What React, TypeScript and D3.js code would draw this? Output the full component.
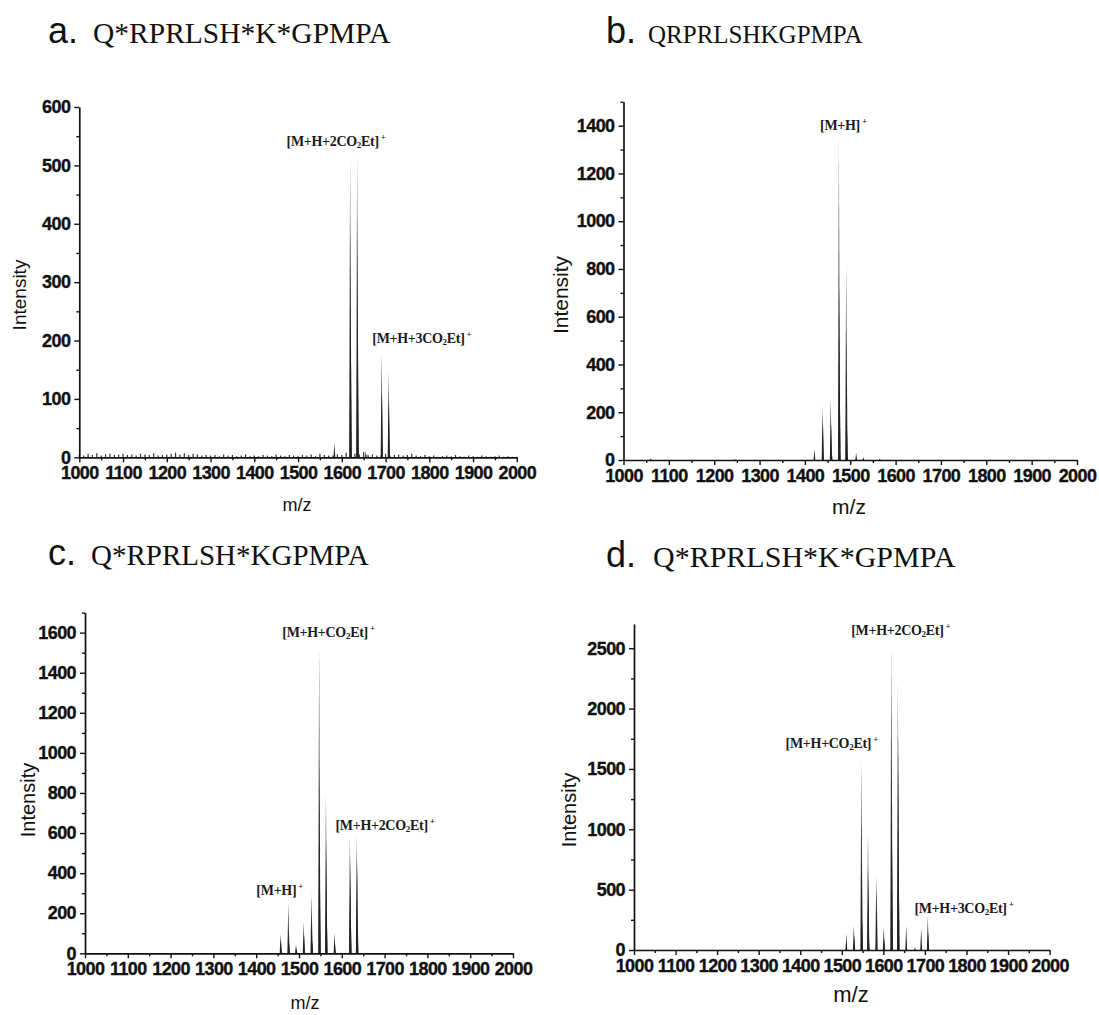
import React, { useEffect, useRef } from 'react';
import * as d3 from 'd3';

// [m/z, intensity] pairs (isotope lines included)
const peaksA: [number, number][] = [
  [1583, 24], [1655, 10],
  [1619, 515], [1620, 400], [1621, 170],
  [1635, 520], [1636, 410], [1637, 160],
  [1691, 178], [1692, 110], [1707, 148], [1708, 95],
];
// panel a baseline noise, one value every 10 m/z from 1000
const noiseA: number[] = [
  5, 3, 6, 4, 7, 3, 5, 6, 4, 5,
  6, 4, 5, 3, 6, 5, 4, 7, 3, 4,
  5, 6, 8, 5, 7, 4, 6, 5, 3, 4,
  3, 4, 2, 5, 3, 4, 2, 3, 5, 2,
  3, 2, 4, 3, 2, 5, 3, 2, 4, 3,
  2, 4, 3, 5, 2, 6, 4, 3, 3, 5,
  4, 8, 3, 6, 5, 9, 4, 5, 3, 4,
  6, 3, 4, 5, 3, 4, 6, 3, 2, 4,
  2, 3, 1, 2, 3, 2, 4, 2, 1, 3,
  2, 1, 3, 2, 1, 2, 3, 1, 2, 1, 1,
];
const peaksB: [number, number][] = [
  [1060, 6], [1245, 3], [1421, 45],
  [1439, 223], [1440, 150], [1457, 258], [1458, 150], [1459, 40],
  [1475, 1340], [1476, 740], [1477, 280],
  [1491, 824], [1492, 560], [1493, 130],
  [1513, 30], [1529, 12], [1565, 5],
];
const peaksC: [number, number][] = [
  [1457, 95], [1458, 60], [1475, 250], [1476, 133], [1477, 50],
  [1493, 45], [1494, 25], [1511, 158], [1512, 90],
  [1529, 300], [1530, 200], [1531, 60],
  [1547, 1535], [1548, 970], [1549, 320],
  [1563, 790], [1564, 570], [1565, 170], [1583, 100], [1584, 50],
  [1619, 590], [1620, 480], [1621, 180],
  [1635, 585], [1636, 470], [1637, 170],
];
const peaksD: [number, number][] = [
  [1511, 133], [1529, 200], [1530, 120],
  [1547, 1580], [1548, 1063], [1549, 250],
  [1563, 972], [1564, 677], [1565, 120],
  [1583, 621], [1584, 500], [1601, 193], [1602, 100],
  [1619, 2546], [1620, 2016], [1621, 860],
  [1635, 2204], [1636, 1795], [1637, 700],
  [1655, 200], [1676, 20], [1691, 180], [1707, 282], [1708, 150],
];

// peak annotations: text, m/z of text centre, intensity at baseline
const labelsA: [string, number, number][] = [
  ['[M+H+2CO2Et]+', 1587, 533],
  ['[M+H+3CO2Et]+', 1783, 196],
];
const labelsB: [string, number, number][] = [['[M+H]+', 1485, 1382]];
const labelsC: [string, number, number][] = [
  ['[M+H+CO2Et]+', 1569, 1578],
  ['[M+H+2CO2Et]+', 1701, 615],
  ['[M+H]+', 1455, 292],
];
const labelsD: [string, number, number][] = [
  ['[M+H+2CO2Et]+', 1642, 2610],
  ['[M+H+CO2Et]+', 1476, 1673],
  ['[M+H+3CO2Et]+', 1794, 307],
];

const xTicks = d3.range(1000, 2001, 100);

interface Panel {
  letter: string;
  seq: string;
  seqSize: number;
  tx: number; ty: number; sx: number;
  x0: number; x1: number;
  yZero: number; yTopPx: number; yTop: number;
  major: number; minor: number;
  peaks: [number, number][];
  labels: [string, number, number][];
  noise?: number[];
  ylx: number; yly: number; ylSize: number;
  mzx: number; mzy: number; mzSize: number;
}

const panels: Panel[] = [
  { letter: 'a.', seq: 'Q*RPRLSH*K*GPMPA', seqSize: 29.5, tx: 48, ty: 43, sx: 93,
    x0: 79.3, x1: 516.8, yZero: 457.3, yTopPx: 107, yTop: 600, major: 100, minor: 50,
    peaks: peaksA, labels: labelsA, noise: noiseA,
    ylx: 19, yly: 295, ylSize: 19, mzx: 297, mzy: 505, mzSize: 18 },
  { letter: 'b.', seq: 'QRPRLSHKGPMPA', seqSize: 25, tx: 606, ty: 43, sx: 648,
    x0: 623.5, x1: 1077, yZero: 460, yTopPx: 101.8, yTop: 1500, major: 200, minor: 100,
    peaks: peaksB, labels: labelsB,
    ylx: 560, yly: 295, ylSize: 21, mzx: 849, mzy: 506, mzSize: 21 },
  { letter: 'c.', seq: 'Q*RPRLSH*KGPMPA', seqSize: 29, tx: 48, ty: 565, sx: 91,
    x0: 85, x1: 513, yZero: 953.3, yTopPx: 612.6, yTop: 1700, major: 200, minor: 100,
    peaks: peaksC, labels: labelsC,
    ylx: 28, yly: 800, ylSize: 20, mzx: 305, mzy: 1003, mzSize: 18 },
  { letter: 'd.', seq: 'Q*RPRLSH*K*GPMPA', seqSize: 30, tx: 606, ty: 567, sx: 653,
    x0: 634, x1: 1049.6, yZero: 950, yTopPx: 624.1, yTop: 2700, major: 500, minor: 250,
    peaks: peaksD, labels: labelsD,
    ylx: 569, yly: 810, ylSize: 20, mzx: 851, mzy: 994, mzSize: 22 },
];

const SANS = '"Liberation Sans", Arial, sans-serif';
const SERIF = '"Liberation Serif", "Times New Roman", serif';

function drawPanel(svg: d3.Selection<SVGSVGElement, unknown, null, undefined>, p: Panel) {
  const g = svg.append('g');
  const x = d3.scaleLinear().domain([1000, 2000]).range([p.x0, p.x1]);
  const y = d3.scaleLinear().domain([0, p.yTop]).range([p.yZero, p.yTopPx]);

  // title
  g.append('text').attr('x', p.tx).attr('y', p.ty).attr('fill', '#111')
    .style('font-family', SANS).style('font-size', '36px').text(p.letter);
  g.append('text').attr('x', p.sx).attr('y', p.ty).attr('fill', '#111')
    .style('font-family', SERIF).style('font-size', `${p.seqSize}px`).text(p.seq);

  // baseline noise as tiny sticks
  if (p.noise) {
    g.selectAll('line.noise')
      .data(p.noise)
      .enter()
      .append('line')
      .attr('class', 'noise')
      .attr('x1', (d, i) => x(1000 + i * 10))
      .attr('x2', (d, i) => x(1000 + i * 10))
      .attr('y1', p.yZero)
      .attr('y2', (d) => y(d))
      .attr('stroke', '#333')
      .attr('stroke-width', 1.2);
  }

  // peaks as narrow sticks
  g.selectAll('path.peak')
    .data(p.peaks)
    .enter()
    .append('path')
    .attr('class', 'peak')
    .attr('d', (d) => {
      const cx = x(d[0]);
      return `M${cx - 0.9},${p.yZero}L${cx},${y(d[1])}L${cx + 0.9},${p.yZero}Z`;
    })
    .attr('fill', '#222');

  // axes
  const styleAxis = (a: d3.Selection<SVGGElement, unknown, null, undefined>) => {
    a.selectAll('path.domain').attr('stroke', '#111').attr('stroke-width', 1.7);
    a.selectAll('line').attr('stroke', '#111').attr('stroke-width', 1.4);
    a.selectAll('text')
      .attr('fill', '#111')
      .attr('stroke', '#111')
      .attr('stroke-width', 0.35)
      .style('font-family', SANS)
      .style('font-weight', 'bold')
      .style('font-size', '18px')
      .style('letter-spacing', '-0.6px');
  };

  const yMinor = g.append('g').attr('transform', `translate(${p.x0},0)`)
    .call(d3.axisLeft(y).tickValues(d3.range(p.minor, p.yTop + 1, p.major).filter((v) => v % p.major !== 0)).tickSize(3).tickFormat(() => ''));
  yMinor.select('path.domain').remove();
  styleAxis(yMinor);

  const xMinor = g.append('g').attr('transform', `translate(0,${p.yZero})`)
    .call(d3.axisBottom(x).tickValues(d3.range(1050, 2000, 100)).tickSize(3).tickFormat(() => ''));
  xMinor.select('path.domain').remove();
  styleAxis(xMinor);

  const yAx = g.append('g').attr('transform', `translate(${p.x0},0)`)
    .call(d3.axisLeft(y).tickValues(d3.range(0, p.yTop + 1, p.major)).tickSize(5).tickSizeOuter(0).tickPadding(4).tickFormat(d3.format('d')));
  styleAxis(yAx);

  const xAx = g.append('g').attr('transform', `translate(0,${p.yZero})`)
    .call(d3.axisBottom(x).tickValues(xTicks).tickSize(5).tickSizeOuter(0).tickPadding(4).tickFormat(d3.format('d')));
  styleAxis(xAx);

  // axis titles
  g.append('text')
    .attr('transform', `translate(${p.ylx},${p.yly}) rotate(-90)`)
    .attr('text-anchor', 'middle')
    .attr('dominant-baseline', 'central')
    .style('font-family', SANS)
    .style('font-size', `${p.ylSize}px`)
    .attr('fill', '#111')
    .text('Intensity');
  g.append('text')
    .attr('x', p.mzx)
    .attr('y', p.mzy)
    .attr('text-anchor', 'middle')
    .attr('dominant-baseline', 'central')
    .style('font-family', SANS)
    .style('font-size', `${p.mzSize}px`)
    .attr('fill', '#111')
    .text('m/z');

  // peak labels
  p.labels.forEach(([txt, mz, v]) => {
    const lt = g.append('text')
      .attr('x', x(mz))
      .attr('y', y(v))
      .attr('text-anchor', 'middle')
      .attr('fill', '#1a1a1a')
      .style('font-family', SERIF)
      .style('font-weight', 'bold')
      .style('font-size', '14px')
      .style('letter-spacing', '-0.3px');
    const base = txt.slice(0, -1);
    const idx = base.indexOf('CO2');
    if (idx >= 0) {
      lt.append('tspan').text(base.slice(0, idx + 2));
      lt.append('tspan').attr('dy', 2).style('font-size', '9px').text('2');
      lt.append('tspan').attr('dy', -2).text(base.slice(idx + 3));
    } else {
      lt.append('tspan').text(base);
    }
    lt.append('tspan').attr('dy', -6).attr('dx', 2).style('font-size', '9px').text('+');
  });
}

const App: React.FC = () => {
  const svgRef = useRef<SVGSVGElement | null>(null);

  useEffect(() => {
    if (!svgRef.current) return;
    const svg = d3.select(svgRef.current);
    svg.selectAll('*').remove();
    svg.append('rect').attr('width', 1099).attr('height', 1015).attr('fill', '#fff');
    panels.forEach((p) => drawPanel(svg, p));
  }, []);

  return (
    <svg
      ref={svgRef}
      width={1099}
      height={1015}
      style={{ position: 'absolute', left: 0, top: 0, background: '#fff' }}
    />
  );
};

export default App;
